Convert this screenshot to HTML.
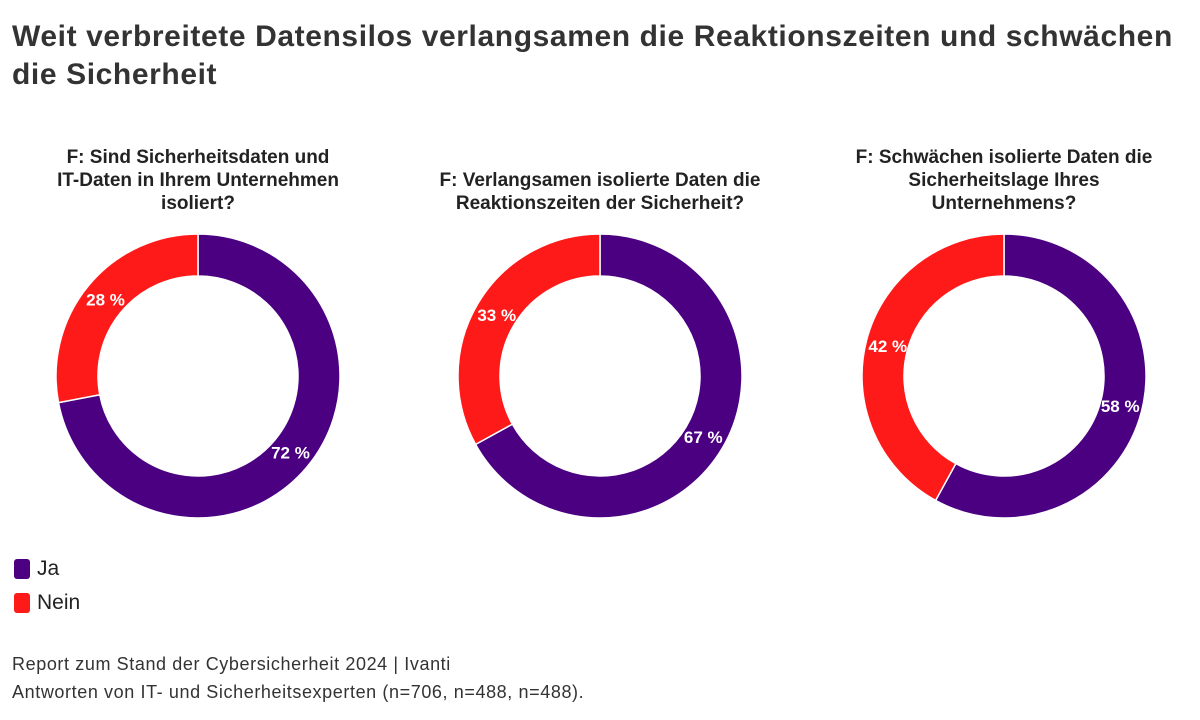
<!DOCTYPE html>
<html><head><meta charset="utf-8"><style>
body{margin:0;width:1200px;height:720px;background:#fff;font-family:"Liberation Sans",sans-serif;color:#222;position:relative;overflow:hidden}
.t{position:absolute;left:12px;top:18px;font-size:30px;font-weight:bold;line-height:38px;color:#333;letter-spacing:0.6px;white-space:nowrap}
.st{position:absolute;width:400px;text-align:center;font-size:19px;font-weight:bold;line-height:23px;color:#222}
.leg{position:absolute;left:14px;font-size:21px;display:flex;align-items:center}
.sw{width:16px;height:20px;border-radius:3px;margin-right:7px}
.f{position:absolute;left:12px;font-size:18px;color:#333;letter-spacing:0.6px;white-space:nowrap}
</style></head><body>
<div class="t">Weit verbreitete Datensilos verlangsamen die Reaktionszeiten und schwächen<br>die Sicherheit</div>
<div class="st" style="left:-2px;top:146px">F: Sind Sicherheitsdaten und<br>IT-Daten in Ihrem Unternehmen<br>isoliert?</div>
<div class="st" style="left:400px;top:169px">F: Verlangsamen isolierte Daten die<br>Reaktionszeiten der Sicherheit?</div>
<div class="st" style="left:804px;top:146px">F: Schwächen isolierte Daten die<br>Sicherheitslage Ihres<br>Unternehmens?</div>
<svg id="c" width="1200" height="720" style="position:absolute;left:0;top:0"></svg>
<div class="leg" style="top:557px"><div class="sw" style="background:#4b0082"></div>Ja</div>
<div class="leg" style="top:591px"><div class="sw" style="background:#ff1a1a"></div>Nein</div>
<div class="f" style="top:654px">Report zum Stand der Cybersicherheit 2024 | Ivanti</div>
<div class="f" style="top:682px">Antworten von IT- und Sicherheitsexperten (n=706, n=488, n=488).</div>
<script>
const categories=["Frage 1","Frage 2","Frage 3"];
const jaValues=[72,67,58];
const neinValues=[28,33,42];
const centersX=[198,600,1004];
const cy=376,R=142,r=100,LR=120;
const svg=document.getElementById('c');
const NS='http://www.w3.org/2000/svg';
function pt(rad,a,cx){return [cx+rad*Math.sin(a),cy-rad*Math.cos(a)];}
function arc(cx,a0,a1,color,name){
  const large=(a1-a0)>Math.PI?1:0;
  const p1=pt(R,a0,cx),p2=pt(R,a1,cx),p3=pt(r,a1,cx),p4=pt(r,a0,cx);
  const p=document.createElementNS(NS,'path');
  p.setAttribute('d',`M${p1[0]},${p1[1]}A${R},${R} 0 ${large} 1 ${p2[0]},${p2[1]}L${p3[0]},${p3[1]}A${r},${r} 0 ${large} 0 ${p4[0]},${p4[1]}Z`);
  p.setAttribute('fill',color);p.setAttribute('stroke','#fff');p.setAttribute('stroke-width','1.5');
  
  
  svg.appendChild(p);
}
function label(cx,a,txt,name){
  const q=pt(LR,a,cx);
  const t=document.createElementNS(NS,'text');
  t.setAttribute('x',q[0]);t.setAttribute('y',q[1]+6);t.setAttribute('text-anchor','middle');
  t.setAttribute('fill','#fff');t.setAttribute('font-size','17');t.setAttribute('font-weight','bold');
  t.setAttribute('font-family','Liberation Sans, sans-serif');
  t.textContent=txt;
  
  
  svg.appendChild(t);
}
categories.forEach((c,i)=>{
  const cx=centersX[i],tot=jaValues[i]+neinValues[i];
  const aJa=jaValues[i]/tot*2*Math.PI;
  arc(cx,0,aJa,'#4b0082','slice-ja-'+(i+1));
  arc(cx,aJa,2*Math.PI-0.0001,'#ff1a1a','slice-nein-'+(i+1));
  label(cx,aJa/2,jaValues[i]+' %','label-ja-'+(i+1));
  label(cx,aJa+(2*Math.PI-aJa)/2,neinValues[i]+' %','label-nein-'+(i+1));
});
</script>
</body></html>
